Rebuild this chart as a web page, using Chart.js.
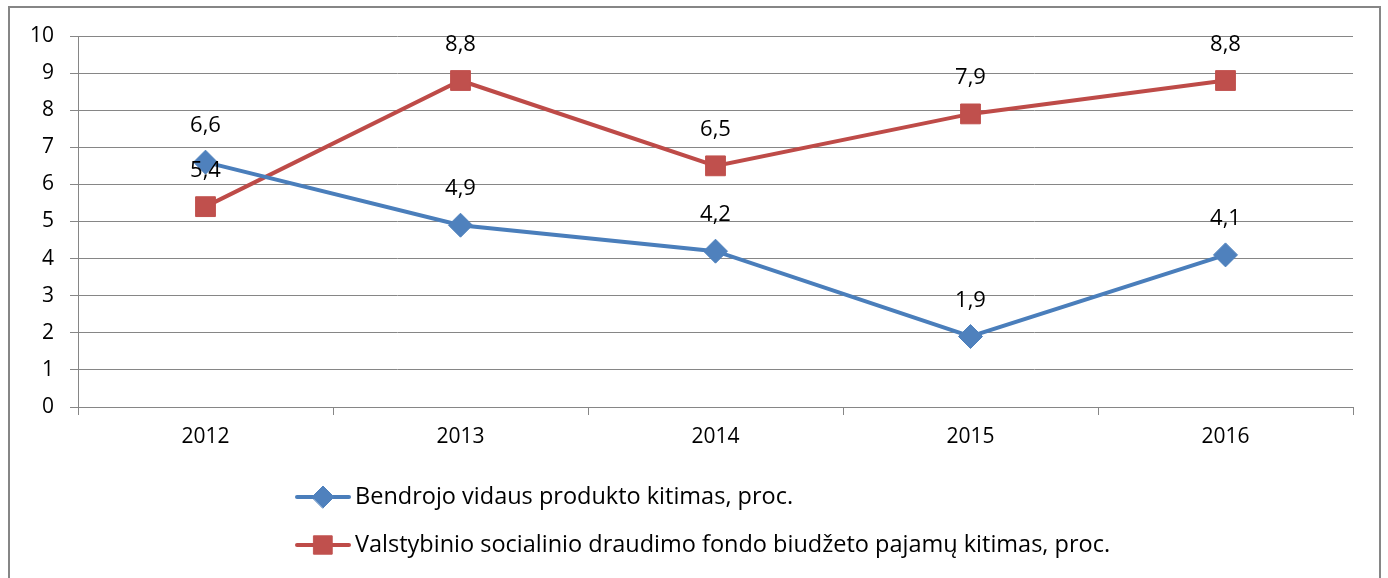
<!DOCTYPE html>
<html>
<head>
<meta charset="utf-8">
<script src="https://cdn.jsdelivr.net/npm/chart.js@4/dist/chart.umd.min.js"></script>
<style>
  html, body { margin: 0; padding: 0; background: #fff; }
  #wrap { position: relative; width: 1388px; height: 578px; overflow: hidden; }
  #frame { position: absolute; left: 8px; top: 6px; width: 1373px; height: 600px; border: 2px solid #868686; box-sizing: border-box; }
  canvas { position: absolute; left: 0; top: 0; }
</style>
</head>
<body>
<div id="wrap">
  <div id="frame"></div>
  <canvas id="chart" width="1388" height="578"></canvas>
</div>
<script>
/* Line chart: BVP vs VSDF budget revenue change, 2012-2016 */

const YEARS = ["2012", "2013", "2014", "2015", "2016"];
const BVP = [6.6, 4.9, 4.2, 1.9, 4.1];
const VSDF = [5.4, 8.8, 6.5, 7.9, 8.8];
const SERIES_NAMES = [
  "Bendrojo vidaus produkto kitimas, proc.",
  "Valstybinio socialinio draudimo fondo biudžeto pajamų kitimas, proc.",
];
const Y_MIN = 0, Y_MAX = 10, Y_STEP = 1;

const BLUE = "#4A7EBB", BLUE_FILL = "#4F81BD";
const RED = "#BE4B48", RED_FILL = "#C0504D";
const GRID = "#868686";
const FONT = "'Open Sans', 'Liberation Sans', sans-serif";

const fmt = (v) => v.toFixed(1).replace(".", ",");

// value labels above each point
const valueLabels = {
  id: "valueLabels",
  afterDatasetsDraw(chart) {
    const ctx = chart.ctx;
    ctx.save();
    ctx.font = "22px " + FONT;
    ctx.fillStyle = "#000";
    ctx.textAlign = "center";
    ctx.textBaseline = "middle";
    chart.data.datasets.forEach((ds, i) => {
      chart.getDatasetMeta(i).data.forEach((pt, j) => {
        ctx.fillText(fmt(ds.data[j]), pt.x, pt.y - 36);
      });
    });
    ctx.restore();
  },
};

// legend: line sample with marker, stacked vertically
const lineLegend = {
  id: "lineLegend",
  afterDraw(chart) {
    const ctx = chart.ctx;
    const rows = [
      { y: 497, color: BLUE, fill: BLUE_FILL, style: "rectRot", r: 11 },
      { y: 545, color: RED, fill: RED_FILL, style: "rect", r: 13 },
    ];
    ctx.save();
    rows.forEach((row, i) => {
      ctx.strokeStyle = row.color;
      ctx.lineWidth = 4;
      ctx.lineCap = "round";
      ctx.beginPath();
      ctx.moveTo(297, row.y);
      ctx.lineTo(349, row.y);
      ctx.stroke();
      ctx.fillStyle = row.fill;
      ctx.strokeStyle = row.fill;
      ctx.lineWidth = 1;
      Chart.helpers.drawPoint(ctx, { pointStyle: row.style, radius: row.r, borderWidth: 1 }, 323, row.y);
      ctx.fillStyle = "#000";
      ctx.font = "23.5px " + FONT;
      ctx.textAlign = "left";
      ctx.textBaseline = "middle";
      ctx.fillText(SERIES_NAMES[i], 355, row.y);
    });
    ctx.restore();
  },
};

new Chart(document.getElementById("chart"), {
  type: "line",
  data: {
    labels: YEARS,
    datasets: [
      {
        label: SERIES_NAMES[0], data: BVP,
        borderColor: BLUE, borderWidth: 4, tension: 0,
        pointStyle: "rectRot", pointRadius: 12, pointBackgroundColor: BLUE_FILL, pointBorderColor: BLUE_FILL, pointBorderWidth: 1,
      },
      {
        label: SERIES_NAMES[1], data: VSDF,
        borderColor: RED, borderWidth: 4, tension: 0,
        pointStyle: "rect", pointRadius: 14, pointBackgroundColor: RED_FILL, pointBorderColor: RED_FILL, pointBorderWidth: 1,
      },
    ],
  },
  options: {
    responsive: false,
    animation: false,
    layout: { padding: { left: 0, top: 36, right: 35, bottom: 0 } },
    plugins: { legend: { display: false }, tooltip: { enabled: false } },
    scales: {
      x: {
        offset: true,
        grid: { offset: true, drawOnChartArea: false, color: GRID, tickLength: 8 },
        border: { color: GRID, width: 1 },
        ticks: { color: "#000", font: { family: FONT, size: 21 }, padding: 9 },
        afterFit: (s) => { s.height = 171; },
      },
      y: {
        min: Y_MIN, max: Y_MAX,
        grid: { color: GRID, tickLength: 8 },
        border: { color: GRID, width: 1 },
        ticks: { stepSize: Y_STEP, color: "#000", font: { family: FONT, size: 21 }, padding: 16 },
        afterFit: (s) => { s.width = 78; },
      },
    },
  },
  plugins: [valueLabels, lineLegend],
});
</script>
</body>
</html>
